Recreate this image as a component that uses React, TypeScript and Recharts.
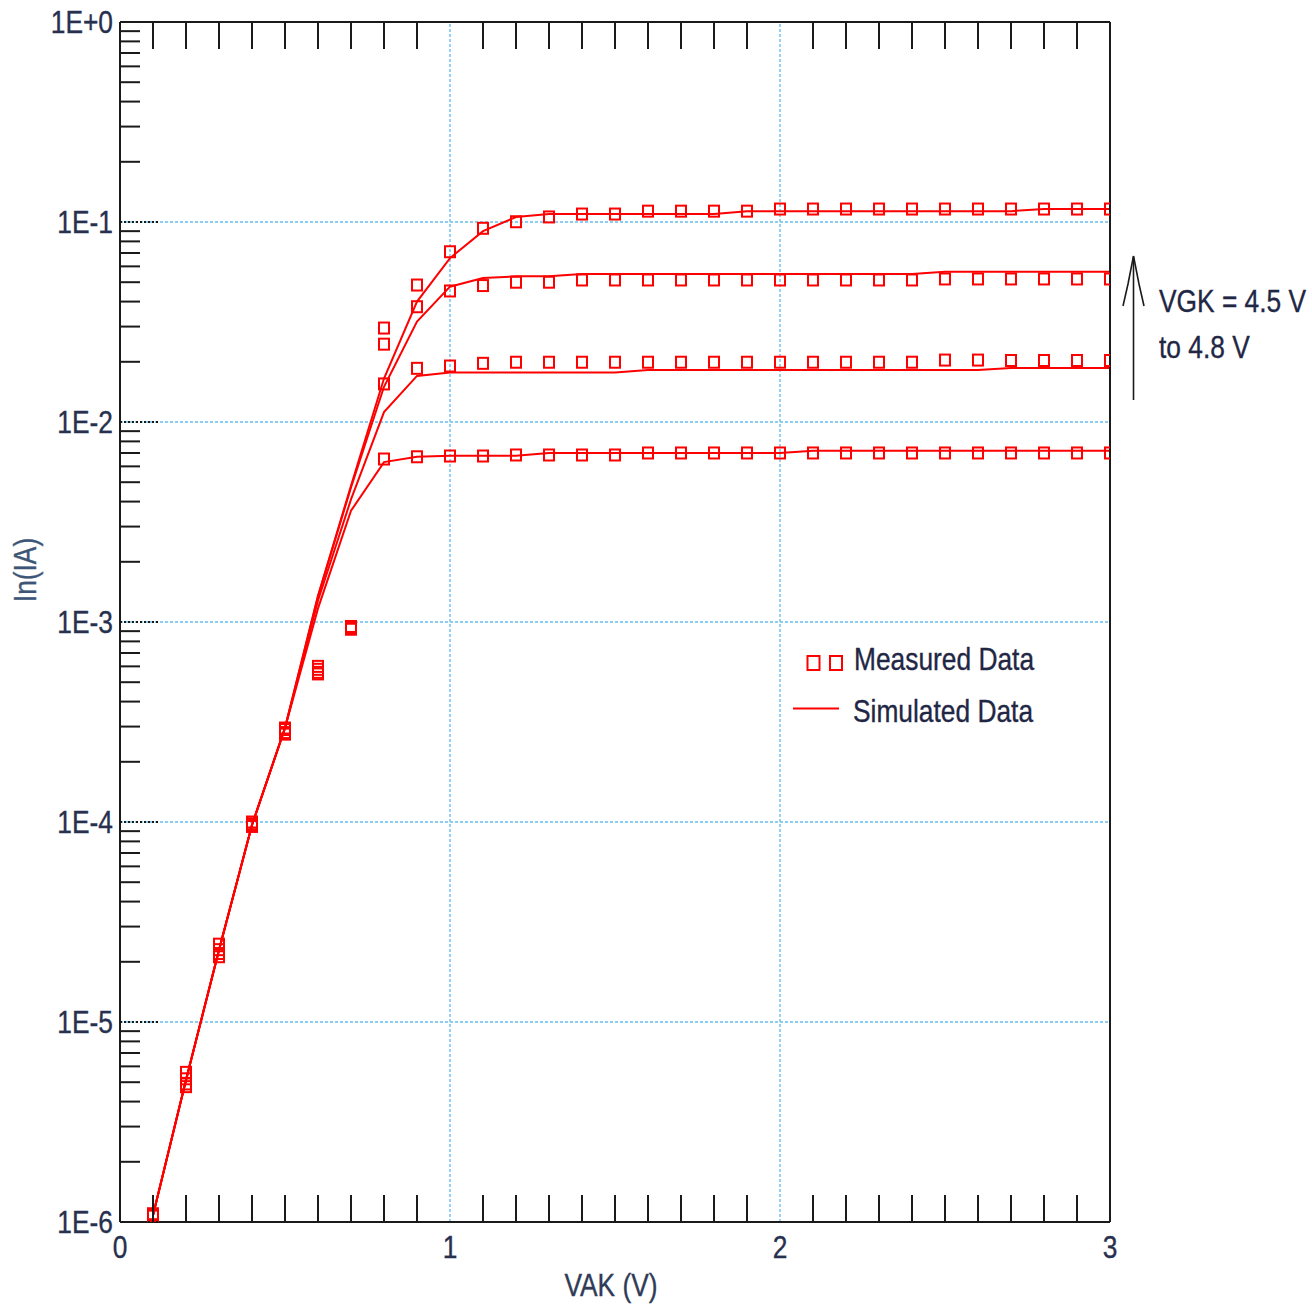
import React from "react";
import { ComposedChart, Line, XAxis, YAxis, ReferenceLine } from "recharts";

// ---------- data ----------
const vak = [0.1, 0.2, 0.3, 0.4, 0.5, 0.6, 0.7, 0.8, 0.9, 1.0, 1.1, 1.2, 1.3, 1.4, 1.5, 1.6, 1.7, 1.8, 1.9, 2.0, 2.1, 2.2, 2.3, 2.4, 2.5, 2.6, 2.7, 2.8, 2.9, 3.0];

// Measured data (VGK = 4.5 V ... 4.8 V)
const meas45 = [1.07e-6, 4.75e-6, 2.12e-5, 9.5e-5, 2.75e-4, 5.5e-4, 9.2e-4, 0.00653, 0.0067, 0.00676, 0.00676, 0.00684, 0.00684, 0.00684, 0.00684, 0.007, 0.007, 0.007, 0.007, 0.007, 0.007, 0.007, 0.007, 0.007, 0.007, 0.007, 0.007, 0.007, 0.007, 0.007];
const meas46 = [1.08e-6, 4.9e-6, 2.2e-5, 9.6e-5, 2.8e-4, 5.6e-4, 9.3e-4, 0.0155, 0.01855, 0.01905, 0.01965, 0.0199, 0.0199, 0.0199, 0.0199, 0.0199, 0.0199, 0.0199, 0.0199, 0.0199, 0.0199, 0.0199, 0.0199, 0.0199, 0.0204, 0.0204, 0.0203, 0.0203, 0.0203, 0.0203];
const meas47 = [1.09e-6, 5.2e-6, 2.3e-5, 9.8e-5, 2.9e-4, 5.8e-4, 9.4e-4, 0.0245, 0.0377, 0.0452, 0.0481, 0.05, 0.05, 0.0513, 0.0513, 0.0513, 0.0513, 0.0513, 0.0513, 0.0513, 0.0513, 0.0513, 0.0513, 0.0513, 0.0519, 0.0519, 0.0519, 0.0519, 0.0519, 0.0519];
const meas48 = [1.1e-6, 5.6e-6, 2.45e-5, 1.0e-4, 2.95e-4, 6.0e-4, 9.5e-4, 0.0295, 0.0484, 0.071, 0.093, 0.1003, 0.106, 0.1096, 0.1096, 0.1133, 0.1133, 0.1133, 0.1133, 0.1161, 0.1161, 0.1161, 0.1161, 0.1161, 0.1161, 0.1161, 0.1161, 0.1161, 0.1161, 0.1161];

// Simulated data
const sim45 = [1.08e-6, 5.13e-6, 2.29e-5, 9.66e-5, 2.95e-4, 1.17e-3, 3.6e-3, 0.0063, 0.0067, 0.00679, 0.00679, 0.00679, 0.007, 0.007, 0.007, 0.007, 0.007, 0.007, 0.007, 0.007, 0.00719, 0.00719, 0.00719, 0.00719, 0.00719, 0.00719, 0.00719, 0.00719, 0.00719, 0.00719];
const sim46 = [1.08e-6, 5.13e-6, 2.29e-5, 9.66e-5, 2.95e-4, 1.28e-3, 4.1e-3, 0.0112, 0.017, 0.0177, 0.0177, 0.0177, 0.0177, 0.0177, 0.0177, 0.0182, 0.0182, 0.0182, 0.0182, 0.0182, 0.0182, 0.0182, 0.0182, 0.0182, 0.0182, 0.0182, 0.0186, 0.0186, 0.0186, 0.0186];
const sim47 = [1.08e-6, 5.13e-6, 2.29e-5, 9.66e-5, 2.95e-4, 1.35e-3, 4.7e-3, 0.015, 0.0318, 0.0475, 0.0525, 0.0535, 0.0535, 0.055, 0.055, 0.055, 0.055, 0.055, 0.055, 0.055, 0.055, 0.055, 0.055, 0.055, 0.0564, 0.0564, 0.0564, 0.0564, 0.0564, 0.0564];
const sim48 = [1.08e-6, 5.13e-6, 2.29e-5, 9.66e-5, 2.95e-4, 1.35e-3, 4.8e-3, 0.0165, 0.04, 0.066, 0.09, 0.1059, 0.1096, 0.1096, 0.1096, 0.1096, 0.1096, 0.1096, 0.1133, 0.1133, 0.1133, 0.1133, 0.1133, 0.1133, 0.1133, 0.1133, 0.1133, 0.1161, 0.1161, 0.1161];

// ticks
const xTicks = [0, 0.1, 0.2, 0.3, 0.4, 0.5, 0.6, 0.7, 0.8, 0.9, 1, 1.1, 1.2, 1.3, 1.4, 1.5, 1.6, 1.7, 1.8, 1.9, 2, 2.1, 2.2, 2.3, 2.4, 2.5, 2.6, 2.7, 2.8, 2.9, 3];
const xMajor = [0, 1, 2, 3];
const xMajorLabels = ["0", "1", "2", "3"];
const yDecades = [1, 1e-1, 1e-2, 1e-3, 1e-4, 1e-5, 1e-6];
const yDecadeLabels = ["1E+0", "1E-1", "1E-2", "1E-3", "1E-4", "1E-5", "1E-6"];
const yMinorMultipliers = [2, 3, 4, 5, 6, 7, 8, 9];
const yGridValues = [1e-1, 1e-2, 1e-3, 1e-4, 1e-5];
const xGridValues = [1, 2];

const legendMeasured = "Measured Data";
const legendSimulated = "Simulated Data";
const annotationLines = ["VGK = 4.5 V", "to 4.8 V"];
const xTitle = "VAK (V)";
const yTitle = "In(IA)";

// ---------- build ----------
const data = vak.map((x, i) => ({
  x,
  m45: meas45[i],
  m46: meas46[i],
  m47: meas47[i],
  m48: meas48[i],
  s45: sim45[i],
  s46: sim46[i],
  s47: sim47[i],
  s48: sim48[i],
}));

const yTicks: number[] = [];
yDecades.forEach((d) => yTicks.push(d));
yDecades.slice(1).forEach((d) => yMinorMultipliers.forEach((m) => yTicks.push(d * m)));

const FONT = "'Liberation Sans', Arial, sans-serif";
const RED = "#ff0000";
const TICK_COLOR = "#27304e";
const TEXT_COLOR = "#1f2745";
const GRID = "#8ccdf2";
const TM = 10;
const SX = 0.85;

const NT = (p: any) => {
  const { x, y, anchor = "start", size = 31, fill = TEXT_COLOR, baseline, rotate, children } = p;
  const tr = `translate(${x} ${y})${rotate ? ` rotate(${rotate})` : ""} scale(${SX} 1)`;
  return (
    <text
      x={0}
      y={0}
      transform={tr}
      textAnchor={anchor}
      dominantBaseline={baseline}
      fontFamily={FONT}
      fontSize={size}
      fill={fill}
      stroke={fill}
      strokeWidth={0.35}
    >
      {children}
    </text>
  );
};

const isMajorX = (v: number) => xMajor.findIndex((m) => Math.abs(m - v) < 1e-6);

const BottomTick = (props: any) => {
  const { x, y, payload } = props;
  const axisY = y - TM;
  const idx = isMajorX(payload.value);
  if (idx >= 0) {
    return (
      <NT x={x} y={axisY + 25} anchor="middle" baseline="central" fill={TICK_COLOR}>
        {xMajorLabels[idx]}
      </NT>
    );
  }
  return <line x1={x} x2={x} y1={axisY} y2={axisY - 27} stroke="#1a1a1a" strokeWidth={2} />;
};

const TopTick = (props: any) => {
  const { x, y, payload } = props;
  const axisY = y + TM;
  const idx = isMajorX(payload.value);
  if (idx >= 0) return <g />;
  return <line x1={x} x2={x} y1={axisY} y2={axisY + 27} stroke="#1a1a1a" strokeWidth={2} />;
};

const LeftTick = (props: any) => {
  const { x, y, payload } = props;
  const axisX = x + TM;
  const v = payload.value;
  const idx = yDecades.findIndex((d) => Math.abs(Math.log10(d) - Math.log10(v)) < 1e-6);
  if (idx >= 0) {
    return (
      <g>
        <line x1={axisX} x2={axisX + 40} y1={y} y2={y} stroke="#1a1a1a" strokeWidth={2} strokeDasharray="2 2" />
        <NT x={axisX - 7} y={y} anchor="end" baseline="central" fill={TICK_COLOR}>
          {yDecadeLabels[idx]}
        </NT>
      </g>
    );
  }
  return <line x1={axisX} x2={axisX + 20} y1={y} y2={y} stroke="#1a1a1a" strokeWidth={2} />;
};

const SquareDot = (props: any) => {
  const { cx, cy, index, dataKey } = props;
  if (cx == null || cy == null) return <g key={`${dataKey}-${index}`} />;
  return (
    <rect key={`${dataKey}-${index}`} x={cx - 5} y={cy - 5.5} width={10} height={11} fill="none" stroke={RED} strokeWidth={2} />
  );
};

export default function App() {
  const W = 1312;
  const H = 1311;
  return (
    <div style={{ position: "relative", width: W, height: H, fontFamily: FONT }}>
      <style>{`body{margin:0}`}</style>
      <ComposedChart width={W} height={H} data={data} margin={{ top: 21, right: 201, left: 0, bottom: 29 }}>
        <XAxis
          xAxisId="bottom"
          dataKey="x"
          type="number"
          domain={[0, 3]}
          ticks={xTicks}
          interval={0}
          tickSize={0}
          tickMargin={TM}
          tickLine={false}
          tick={<BottomTick />}
          axisLine={{ stroke: "#1a1a1a", strokeWidth: 2 }}
          height={60}
          allowDataOverflow
        />
        <XAxis
          xAxisId="top"
          orientation="top"
          dataKey="x"
          type="number"
          domain={[0, 3]}
          ticks={xTicks}
          interval={0}
          tickSize={0}
          tickMargin={TM}
          tickLine={false}
          tick={<TopTick />}
          axisLine={{ stroke: "#1a1a1a", strokeWidth: 2 }}
          height={1}
          allowDataOverflow
        />
        <YAxis
          yAxisId="left"
          type="number"
          scale="log"
          domain={[1e-6, 1]}
          ticks={yTicks}
          interval={0}
          tickSize={0}
          tickMargin={TM}
          tickLine={false}
          tick={<LeftTick />}
          axisLine={{ stroke: "#1a1a1a", strokeWidth: 2 }}
          width={120}
          allowDataOverflow
        />
        <YAxis
          yAxisId="right"
          orientation="right"
          type="number"
          scale="log"
          domain={[1e-6, 1]}
          ticks={[1e-6, 1]}
          tick={false}
          tickLine={false}
          axisLine={{ stroke: "#1a1a1a", strokeWidth: 2 }}
          width={1}
          allowDataOverflow
        />
        {yGridValues.map((v) => (
          <ReferenceLine key={`gy${v}`} xAxisId="bottom" yAxisId="left" y={v} stroke={GRID} strokeWidth={1.8} strokeDasharray="3 2" />
        ))}
        {xGridValues.map((v) => (
          <ReferenceLine key={`gx${v}`} xAxisId="bottom" yAxisId="left" x={v} stroke={GRID} strokeWidth={1.8} strokeDasharray="3 2" />
        ))}
        {["s45", "s46", "s47", "s48"].map((k) => (
          <Line
            key={k}
            xAxisId="bottom"
            yAxisId="left"
            type="linear"
            dataKey={k}
            stroke={RED}
            strokeWidth={2}
            dot={false}
            activeDot={false}
            isAnimationActive={false}
          />
        ))}
        {["m45", "m46", "m47", "m48"].map((k) => (
          <Line
            key={k}
            xAxisId="bottom"
            yAxisId="left"
            type="linear"
            dataKey={k}
            stroke="none"
            strokeWidth={0}
            dot={SquareDot}
            activeDot={false}
            isAnimationActive={false}
          />
        ))}
      </ComposedChart>
      <svg width={W} height={H} style={{ position: "absolute", left: 0, top: 0, pointerEvents: "none" }}>
        {/* axis titles */}
        <NT x={611} y={1285} anchor="middle" baseline="central" fill="#2f3b57">
          {xTitle}
        </NT>
        <NT x={25} y={570} anchor="middle" baseline="central" fill="#3d5678" rotate={-90}>
          {yTitle}
        </NT>
        {/* legend */}
        <rect x={807.5} y={656} width={12} height={14} fill="none" stroke={RED} strokeWidth={2} />
        <rect x={830} y={656} width={12} height={14} fill="none" stroke={RED} strokeWidth={2} />
        <NT x={854} y={670}>{legendMeasured}</NT>
        <line x1={793} x2={839} y1={708.5} y2={708.5} stroke={RED} strokeWidth={2} />
        <NT x={853} y={722}>{legendSimulated}</NT>
        {/* annotation arrow */}
        <line x1={1133.5} x2={1133.5} y1={257} y2={400} stroke="#1a1a1a" strokeWidth={1.6} />
        <polyline points="1123,306 1128,284 1133.5,256" fill="none" stroke="#1a1a1a" strokeWidth={1.6} />
        <polyline points="1144,306 1139,284 1133.5,256" fill="none" stroke="#1a1a1a" strokeWidth={1.6} />
        <NT x={1159} y={312}>{annotationLines[0]}</NT>
        <NT x={1159} y={358}>{annotationLines[1]}</NT>
      </svg>
    </div>
  );
}
